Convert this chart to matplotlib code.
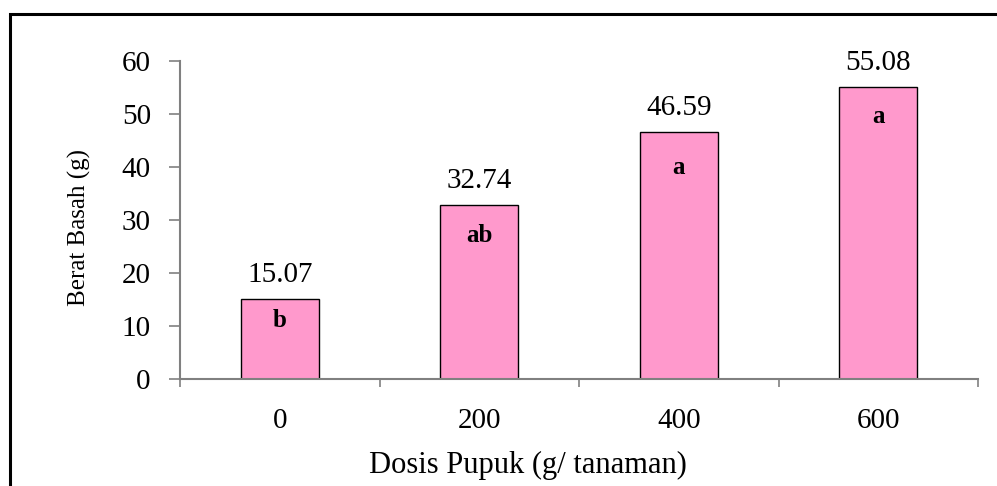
import matplotlib
matplotlib.use("Agg")
import matplotlib.pyplot as plt
from matplotlib.patches import Rectangle

categories = ["0", "200", "400", "600"]
values = [15.07, 32.74, 46.59, 55.08]
value_labels = ["15.07", "32.74", "46.59", "55.08"]
letters = ["b", "ab", "a", "a"]
y_ticks = [0, 10, 20, 30, 40, 50, 60]

plt.rcParams["font.family"] = ["Liberation Serif", "DejaVu Serif"]

W, H = 997, 486
fig = plt.figure(figsize=(W / 100, H / 100), dpi=100)
fig.patch.set_facecolor("white")

def fx(px):
    return px / W

def fy(py):
    return 1 - py / H

ax = fig.add_axes([fx(180), fy(379), fx(978) - fx(180), fy(61) - fy(379)])
x = list(range(len(categories)))
bars = ax.bar(x, values, width=0.39, color="#FF99CC", edgecolor="black", linewidth=1.0, zorder=2)

ax.set_xlim(-0.5, len(categories) - 0.5)
ax.set_ylim(0, 60)
for s in ["top", "right"]:
    ax.spines[s].set_visible(False)
for s in ["left", "bottom"]:
    ax.spines[s].set_color("#808080")
    ax.spines[s].set_linewidth(1.5)

ax.set_yticks(y_ticks)
ax.set_yticklabels([str(t) for t in y_ticks], fontsize=21)
ax.tick_params(axis="y", direction="out", length=8, width=1.2, color="#808080", pad=13)

ax.set_xticks(x)
ax.set_xticklabels(categories, fontsize=21)
ax.tick_params(axis="x", which="major", length=0, pad=21)
ax.set_xticks([i - 0.5 for i in range(len(categories) + 1)], minor=True)
ax.tick_params(axis="x", which="minor", direction="out", length=6, width=1.2, color="#808080")

letter_offsets = [20, 26, 30, 26]
for xi, v, lab, let, off in zip(x, values, value_labels, letters, letter_offsets):
    ax.annotate(lab, (xi, v), xytext=(0, 8), textcoords="offset points",
                ha="center", va="bottom", fontsize=21)
    ax.annotate(let, (xi, v), xytext=(0, -off), textcoords="offset points",
                ha="center", va="baseline", fontsize=18, fontweight="bold")

fig.text(fx(528), fy(465), "Dosis Pupuk (g/ tanaman)", ha="center", va="center", fontsize=22)
fig.text(fx(79), fy(228), "Berat Basah (g)", ha="center", va="center", rotation=90, fontsize=18)

frame = Rectangle((fx(9.5), -0.2), 1.5, fy(14) + 0.2, transform=fig.transFigure,
                  fill=False, edgecolor="black", linewidth=2.2, zorder=10)
fig.patches.append(frame)

fig.savefig("out.png", dpi=100, facecolor="white")
